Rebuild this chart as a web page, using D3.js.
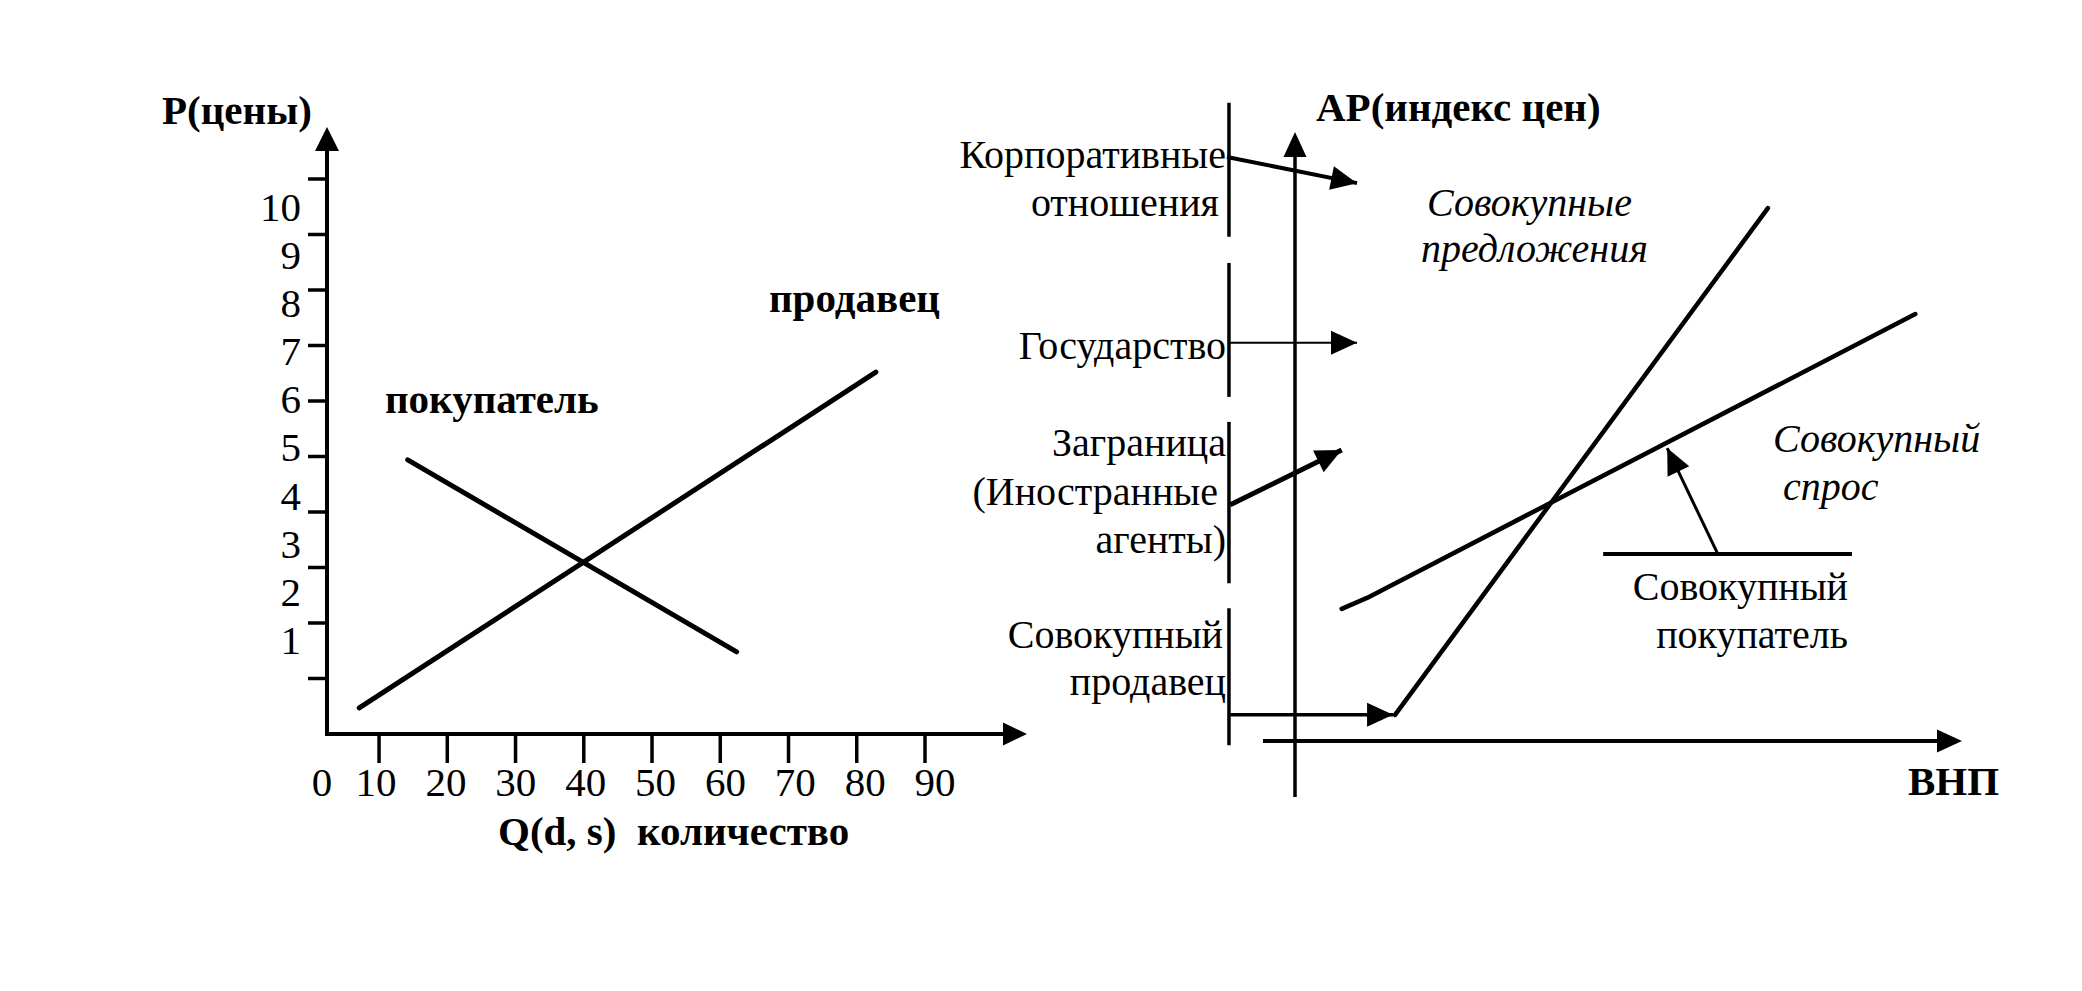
<!DOCTYPE html>
<html><head><meta charset="utf-8">
<script src="https://cdn.jsdelivr.net/npm/d3@7"></script>
<style>
html,body{margin:0;padding:0;background:#fff;}
svg{display:block;}
text{font-family:"Liberation Serif","Times New Roman",serif;fill:#000;}
</style>
</head><body>
<svg id="chart" width="2082" height="991"></svg>
<script>
// ---------- Left chart: market (Q, P) ----------
const qTickValues = [10, 20, 30, 40, 50, 60, 70, 80, 90];
const qLabelValues = [0, 10, 20, 30, 40, 50, 60, 70, 80, 90];
const pTickValues = [1, 2, 3, 4, 5, 6, 7, 8, 9, 10];
const pLabelValues = [1, 2, 3, 4, 5, 6, 7, 8, 9, 10];
const sellerLine = [[7.1, 0.47], [82.8, 6.52]];   // продавец (supply)
const buyerLine  = [[14.2, 4.94], [62.4, 1.48]];  // покупатель (demand)
const leftTitles = ["P(цены)", "Q(d, s)  количество"];
const leftCurveNames = ["продавец", "покупатель"];

// ---------- Right chart: macro (ВНП, AP) in schematic units ----------
const asLine = [[15.0, 4.3], [70.9, 87.5]];                 // Совокупные предложения
const adLine = [[7.0, 21.7], [10.8, 23.5], [93.0, 70.1]];   // Совокупный спрос
const bracketSegments = [[104.8, 82.8], [78.5, 56.5], [52.4, 25.9], [21.8, -0.7]];
const agentNames = [["Корпоративные", "отношения"], ["Государство"], ["Заграница", "(Иностранные", "агенты)"], ["Совокупный", "продавец"]];
const agentArrowFrom = [[-10.2, 95.9], [-10.0, 65.4], [-9.7, 38.8], [-9.7, 4.3]];
const agentArrowTo   = [[9.3, 91.6], [9.3, 65.4], [7.0, 47.8], [14.7, 4.3]];
const buyerBar = [[46.2, 30.7], [83.5, 30.7]];
const buyerArrow = [[63.4, 30.7], [55.8, 48.1]];
const rightTitles = ["AP(индекс цен)", "ВНП"];
const asName = ["Совокупные", "предложения"];
const adName = ["Совокупный", "спрос"];
const buyerName = ["Совокупный", "покупатель"];

const svg = d3.select("#chart");
const FS = 40;    // regular
const FSB = 41;   // bold
const FSI = 40;   // italic

function arrowHead(g, x1, y1, x2, y2, L, W) {
  const dx = x2 - x1, dy = y2 - y1, len = Math.hypot(dx, dy);
  const ux = dx / len, uy = dy / len, px = -uy, py = ux;
  const bx = x2 - ux * L, by = y2 - uy * L;
  g.append("path")
    .attr("d", `M${x2},${y2}L${bx + px * W},${by + py * W}L${bx - px * W},${by - py * W}Z`)
    .attr("fill", "#000");
}

// ===== Left chart =====
const L = svg.append("g");
const x = d3.scaleLinear().domain([0, 90]).range([310.8, 925]);
const y = d3.scaleLinear().domain([0, 10]).range([734, 179]);
const xLab = d3.scaleLinear().domain([0, 10, 90]).range([322, 376, 935]);
const yLab = d3.scaleLinear().domain([1, 10]).range([640, 206.7]);
const ox = 327, oy = 734;

// axes
L.append("line").attr("x1", ox).attr("y1", oy + 2).attr("x2", ox).attr("y2", 150)
  .attr("stroke", "#000").attr("stroke-width", 4);
arrowHead(L, ox, 200, ox, 127, 24, 12);
L.append("line").attr("x1", ox - 2).attr("y1", oy).attr("x2", 1005).attr("y2", oy)
  .attr("stroke", "#000").attr("stroke-width", 4);
arrowHead(L, 900, oy, 1027, oy, 24, 11.5);

// ticks
L.selectAll(".yt").data(pTickValues).join("line")
  .attr("x1", ox - 19).attr("x2", ox).attr("y1", d => y(d)).attr("y2", d => y(d))
  .attr("stroke", "#000").attr("stroke-width", 3.5);
L.selectAll(".xt").data(qTickValues).join("line")
  .attr("x1", d => x(d)).attr("x2", d => x(d)).attr("y1", oy).attr("y2", oy + 29)
  .attr("stroke", "#000").attr("stroke-width", 3.5);

// tick labels
L.selectAll(".yl").data(pLabelValues).join("text")
  .attr("x", 301).attr("y", d => yLab(d) + 14).attr("text-anchor", "end")
  .attr("font-size", FSB).text(d => d);
L.selectAll(".xl").data(qLabelValues).join("text")
  .attr("x", d => xLab(d)).attr("y", 796).attr("text-anchor", "middle")
  .attr("font-size", FSB).text(d => d);

// curves
const lineL = d3.line().x(d => x(d[0])).y(d => y(d[1]));
[sellerLine, buyerLine].forEach(c => {
  L.append("path").attr("d", lineL(c)).attr("fill", "none")
    .attr("stroke", "#000").attr("stroke-width", 5).attr("stroke-linecap", "round");
});

// texts
L.append("text").attr("x", 162).attr("y", 124).attr("font-size", FSB).attr("font-weight", "bold").text(leftTitles[0]);
L.append("text").attr("x", 498).attr("y", 845).attr("font-size", FSB).attr("font-weight", "bold")
  .style("white-space", "pre").text(leftTitles[1]);
L.append("text").attr("x", 769).attr("y", 312).attr("font-size", FSB).attr("font-weight", "bold").text(leftCurveNames[0]);
L.append("text").attr("x", 385).attr("y", 413).attr("font-size", FSB).attr("font-weight", "bold").text(leftCurveNames[1]);

// ===== Right chart =====
const R = svg.append("g");
const gx = d3.scaleLinear().domain([0, 100]).range([1295, 1962]);
const gy = d3.scaleLinear().domain([0, 100]).range([741, 132]);

// bracket segments
const bx = gx(-9.9);
R.selectAll(".br").data(bracketSegments).join("line")
  .attr("x1", bx).attr("x2", bx).attr("y1", d => gy(d[0])).attr("y2", d => gy(d[1]))
  .attr("stroke", "#000").attr("stroke-width", 3.5);

// AP axis
R.append("line").attr("x1", gx(0)).attr("x2", gx(0)).attr("y1", gy(-9.2)).attr("y2", gy(96))
  .attr("stroke", "#000").attr("stroke-width", 3.5);
arrowHead(R, gx(0), gy(50), gx(0), gy(100), 25, 11.5);
// ВНП axis
R.append("line").attr("x1", gx(-4.8)).attr("x2", gx(97)).attr("y1", gy(0)).attr("y2", gy(0))
  .attr("stroke", "#000").attr("stroke-width", 4);
arrowHead(R, gx(50), gy(0), gx(100), gy(0), 25, 11.5);

// agent arrows
const agentWidths = [4, 2, 5, 3.5];
agentArrowFrom.forEach((f, i) => {
  const t = agentArrowTo[i];
  const x1 = gx(f[0]), y1 = gy(f[1]), x2 = gx(t[0]), y2 = gy(t[1]);
  R.append("line").attr("x1", x1).attr("y1", y1).attr("x2", x2).attr("y2", y2)
    .attr("stroke", "#000").attr("stroke-width", agentWidths[i]);
  arrowHead(R, x1, y1, x2, y2, 26, 12);
});

// AS and AD
const lineR = d3.line().x(d => gx(d[0])).y(d => gy(d[1]));
R.append("path").attr("d", lineR(asLine)).attr("fill", "none")
  .attr("stroke", "#000").attr("stroke-width", 4.5).attr("stroke-linecap", "round");
R.append("path").attr("d", lineR(adLine)).attr("fill", "none")
  .attr("stroke", "#000").attr("stroke-width", 4.5).attr("stroke-linecap", "round").attr("stroke-linejoin", "round");

// buyer bar and arrow
R.append("path").attr("d", lineR(buyerBar)).attr("stroke", "#000").attr("stroke-width", 4);
R.append("line").attr("x1", gx(buyerArrow[0][0])).attr("y1", gy(buyerArrow[0][1]))
  .attr("x2", gx(buyerArrow[1][0])).attr("y2", gy(buyerArrow[1][1]))
  .attr("stroke", "#000").attr("stroke-width", 3);
arrowHead(R, gx(buyerArrow[0][0]), gy(buyerArrow[0][1]), gx(buyerArrow[1][0]), gy(buyerArrow[1][1]), 26, 12);

// agent labels (right-aligned to bracket)
const agentBaselines = [[168, 216], [359], [456, 505, 553], [648, 695]];
const agentRight = [[1226, 1219], [1226], [1226, 1218, 1226], [1223, 1226]];
agentNames.forEach((lines, i) => {
  lines.forEach((s, j) => {
    R.append("text").attr("x", agentRight[i][j]).attr("y", agentBaselines[i][j])
      .attr("text-anchor", "end").attr("font-size", FS).text(s);
  });
});

// titles
R.append("text").attr("x", 1316).attr("y", 121).attr("font-size", FSB).attr("font-weight", "bold").text(rightTitles[0]);
R.append("text").attr("x", 1908).attr("y", 795).attr("font-size", FSB).attr("font-weight", "bold").text(rightTitles[1]);

// italic curve names
R.append("text").attr("x", 1427).attr("y", 216).attr("font-size", FSI).attr("font-style", "italic").text(asName[0]);
R.append("text").attr("x", 1421).attr("y", 262).attr("font-size", FSI).attr("font-style", "italic").text(asName[1]);
R.append("text").attr("x", 1773).attr("y", 452).attr("font-size", FSI).attr("font-style", "italic").text(adName[0]);
R.append("text").attr("x", 1783).attr("y", 500).attr("font-size", FSI).attr("font-style", "italic").text(adName[1]);

// buyer label
R.append("text").attr("x", 1848).attr("y", 600).attr("text-anchor", "end").attr("font-size", FS).text(buyerName[0]);
R.append("text").attr("x", 1848).attr("y", 648).attr("text-anchor", "end").attr("font-size", FS).text(buyerName[1]);
</script>
</body></html>
